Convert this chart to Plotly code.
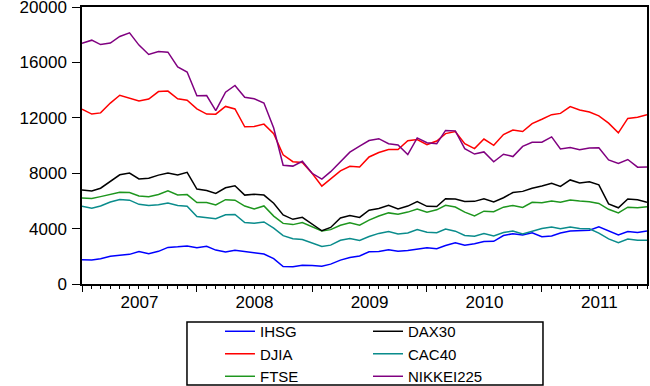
import plotly.graph_objects as go

# Monthly observations, Jan 2007 - Dec 2011
months = [f"{y}-{m:02d}-01" for y in range(2007, 2012) for m in range(1, 13)]

ihsg = [1757, 1741, 1830, 1999, 2084, 2139, 2349, 2194, 2359, 2644, 2688, 2746,
        2627, 2721, 2447, 2304, 2444, 2350, 2304, 2166, 1833, 1257, 1242, 1355,
        1333, 1285, 1434, 1723, 1917, 2027, 2323, 2342, 2468, 2368, 2416, 2534,
        2611, 2549, 2777, 2971, 2797, 2914, 3069, 3082, 3501, 3635, 3531, 3704,
        3410, 3470, 3679, 3820, 3837, 3889, 4131, 3842, 3549, 3791, 3715, 3822]

djia = [12621, 12268, 12354, 13062, 13627, 13408, 13211, 13357, 13895, 13930, 13371, 13264,
        12650, 12266, 12262, 12820, 12638, 11350, 11378, 11543, 10850, 9325, 8829, 8776,
        8000, 7062, 7609, 8168, 8500, 8447, 9171, 9496, 9712, 9713, 10345, 10428,
        10067, 10325, 10857, 11009, 10137, 9774, 10466, 10015, 10788, 11118, 11006, 11578,
        11892, 12226, 12320, 12811, 12570, 12414, 12143, 11614, 10913, 11955, 12046, 12218]

ftse = [6203, 6172, 6308, 6449, 6621, 6608, 6360, 6303, 6467, 6722, 6432, 6457,
        5880, 5884, 5702, 6087, 6054, 5626, 5412, 5637, 4902, 4377, 4288, 4434,
        4150, 3830, 3926, 4244, 4418, 4249, 4608, 4909, 5134, 5045, 5191, 5413,
        5189, 5355, 5680, 5553, 5188, 4917, 5258, 5225, 5549, 5675, 5528, 5900,
        5863, 5994, 5909, 6070, 5990, 5946, 5815, 5395, 5128, 5544, 5505, 5572]

dax30 = [6789, 6716, 6917, 7409, 7883, 8007, 7584, 7638, 7862, 8019, 7871, 8067,
         6851, 6748, 6535, 6949, 7097, 6419, 6480, 6422, 5831, 4988, 4669, 4810,
         4338, 3843, 4085, 4770, 4941, 4809, 5332, 5458, 5675, 5415, 5625, 5957,
         5608, 5598, 6154, 6136, 5964, 5966, 6148, 5925, 6229, 6601, 6688, 6914,
         7077, 7272, 7041, 7514, 7294, 7376, 7159, 5785, 5502, 6141, 6089, 5898]

cac40 = [5609, 5479, 5634, 5925, 6105, 6054, 5752, 5662, 5716, 5848, 5670, 5614,
         4870, 4790, 4707, 4997, 5015, 4434, 4392, 4483, 4032, 3488, 3263, 3218,
         2963, 2703, 2807, 3160, 3278, 3140, 3426, 3653, 3795, 3608, 3680, 3936,
         3739, 3708, 3974, 3816, 3508, 3443, 3643, 3476, 3715, 3833, 3610, 3805,
         4006, 4110, 3989, 4108, 4006, 3982, 3673, 3256, 2982, 3242, 3155, 3160]

nikkei225 = [17383, 17604, 17288, 17400, 17875, 18138, 17248, 16569, 16785, 16737, 15680, 15307,
             13592, 13603, 12525, 13849, 14338, 13481, 13376, 13072, 11259, 8576, 8512, 8859,
             7994, 7568, 8109, 8828, 9522, 9958, 10356, 10492, 10133, 10034, 9345, 10546,
             10198, 10126, 11089, 11057, 9768, 9382, 9537, 8824, 9369, 9202, 9937, 10229,
             10237, 10624, 9755, 9850, 9693, 9816, 9833, 8955, 8700, 8988, 8434, 8455]

y_ticks = [0, 4000, 8000, 12000, 16000, 20000]

series = [
    ("IHSG", ihsg, "#0000FF", "legend"),
    ("DJIA", djia, "#FF0000", "legend"),
    ("FTSE", ftse, "#1E961E", "legend"),
    ("DAX30", dax30, "#000000", "legend2"),
    ("CAC40", cac40, "#0A8C8C", "legend2"),
    ("NIKKEI225", nikkei225, "#800080", "legend2"),
]

fig = go.Figure()
for name, vals, color, leg in series:
    fig.add_trace(go.Scatter(x=months, y=vals, mode="lines", name=name,
                             line=dict(color=color, width=1.5), legend=leg))

font = dict(family="Liberation Sans, Arial, sans-serif", size=17, color="black")

fig.update_layout(
    width=650, height=386,
    margin=dict(l=82, r=3, t=7, b=102, autoexpand=False),
    paper_bgcolor="white", plot_bgcolor="white",
    font=font,
    xaxis=dict(
        type="date", range=["2007-01-01", "2011-12-01"],
        tick0="2007-01-01", dtick="M12", tickformat="%Y",
        ticklabelmode="period", ticklabelstandoff=-4,
        ticks="outside", ticklen=6, tickcolor="black", tickwidth=1,
        showline=True, linecolor="black", linewidth=1.5, mirror=True,
        showgrid=False, zeroline=False,
        minor=dict(dtick="M1", tick0="2007-01-01", ticks="outside", ticklen=3,
                   tickcolor="black", tickwidth=1, showgrid=False),
        tickfont=font,
    ),
    yaxis=dict(
        range=[0, 20000], tickvals=y_ticks, ticktext=[str(v) for v in y_ticks],
        ticks="outside", ticklen=8, tickcolor="black", tickwidth=1,
        showline=True, linecolor="black", linewidth=1.5, mirror=True,
        showgrid=False, zeroline=False, tickfont=font,
        ticklabeloverflow="allow", ticklabelstandoff=2,
    ),
    legend=dict(x=0.2442, y=-0.112, xanchor="left", yanchor="top",
                bgcolor="rgba(0,0,0,0)", borderwidth=0, font=dict(size=15),
                itemwidth=30, tracegroupgap=0),
    legend2=dict(x=0.5062, y=-0.112, xanchor="left", yanchor="top",
                 bgcolor="rgba(0,0,0,0)", borderwidth=0, font=dict(size=15),
                 itemwidth=30, tracegroupgap=0),
    shapes=[dict(type="rect", xref="paper", yref="paper",
                 x0=0.1858, x1=0.8159, y0=-0.3646, y1=-0.1372,
                 line=dict(color="black", width=1.5), fillcolor="rgba(0,0,0,0)")],
    showlegend=True,
)

fig.write_html("out.html", config={"displayModeBar": False},
               post_script="document.body.style.margin='0';document.body.style.overflow='hidden';")
